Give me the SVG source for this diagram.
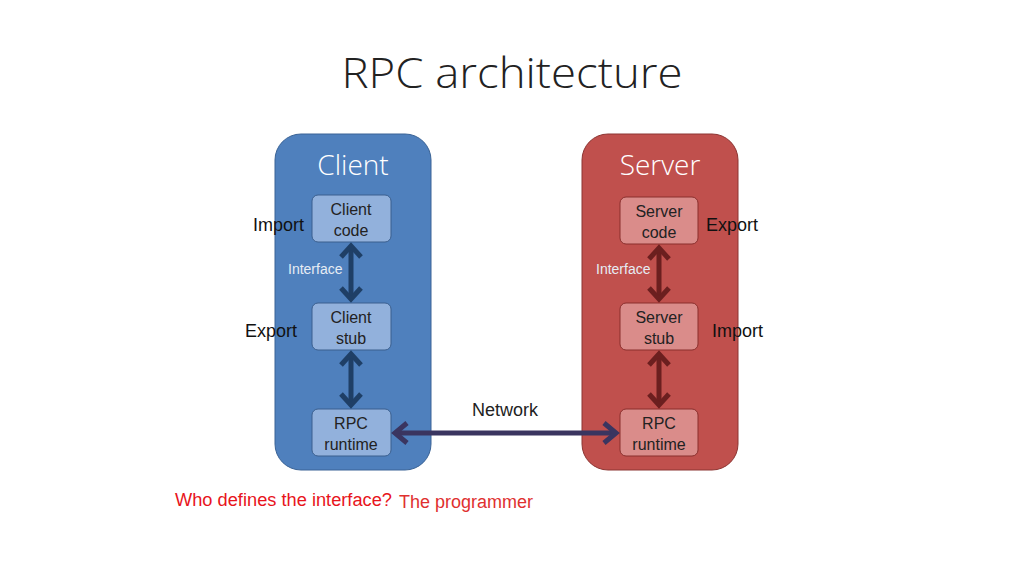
<svg xmlns="http://www.w3.org/2000/svg" width="1024" height="576" viewBox="0 0 1024 576">
<style>
text{font-family:"Liberation Sans",Arial,sans-serif}
.title{font-family:"Open Sans","Liberation Sans",sans-serif;font-size:43px;fill:#222;font-weight:300}
.head{font-family:"Open Sans","Liberation Sans",sans-serif;font-size:28px;fill:#fff;font-weight:300}
.lbl{font-size:16px;fill:#222}
.side{font-size:18px;fill:#111}
.ifc{font-size:14px;fill:#e6ecf4}
.cbox{fill:#92b1dc;stroke:#3b5f8e;stroke-width:1}
.sbox{fill:#da8c8a;stroke:#8a2f2d;stroke-width:1}
.ca{stroke:#1f3f66;stroke-width:5;fill:none;stroke-linecap:butt}
.sa{stroke:#6b1f1f;stroke-width:5;fill:none}
.na{stroke:#3a3560;stroke-width:5;fill:none}
</style>
<rect width="1024" height="576" fill="#fff"/>
<text class="title" x="512" y="88" text-anchor="middle" textLength="341" lengthAdjust="spacingAndGlyphs">RPC architecture</text>
<g id="client">
<rect x="275" y="134" width="156" height="336" rx="26" fill="#4f80bd" stroke="#3a6396" stroke-width="1"/>
<text class="head" x="353" y="175" text-anchor="middle">Client</text>
</g>
<g id="server">
<rect x="582" y="134" width="156" height="336" rx="26" fill="#c0504d" stroke="#8c3532" stroke-width="1"/>
<text class="head" x="660" y="175" text-anchor="middle">Server</text>
</g>
<g id="client-code">
<rect class="cbox" x="312" y="195" width="79" height="47" rx="6"/>
<text class="lbl" x="351" y="215" text-anchor="middle">Client</text>
<text class="lbl" x="351" y="236" text-anchor="middle">code</text>
</g>
<g id="client-stub">
<rect class="cbox" x="312" y="303" width="79" height="47" rx="6"/>
<text class="lbl" x="351" y="323" text-anchor="middle">Client</text>
<text class="lbl" x="351" y="344" text-anchor="middle">stub</text>
</g>
<g id="client-runtime">
<rect class="cbox" x="312" y="409" width="79" height="47" rx="6"/>
<text class="lbl" x="351" y="429" text-anchor="middle">RPC</text>
<text class="lbl" x="351" y="450" text-anchor="middle">runtime</text>
</g>
<g id="server-code">
<rect class="sbox" x="620" y="197" width="78" height="47" rx="6"/>
<text class="lbl" x="659" y="217" text-anchor="middle">Server</text>
<text class="lbl" x="659" y="238" text-anchor="middle">code</text>
</g>
<g id="server-stub">
<rect class="sbox" x="620" y="303" width="78" height="47" rx="6"/>
<text class="lbl" x="659" y="323" text-anchor="middle">Server</text>
<text class="lbl" x="659" y="344" text-anchor="middle">stub</text>
</g>
<g id="server-runtime">
<rect class="sbox" x="620" y="409" width="78" height="47" rx="6"/>
<text class="lbl" x="659" y="429" text-anchor="middle">RPC</text>
<text class="lbl" x="659" y="450" text-anchor="middle">runtime</text>
</g>
<g id="connectors">
<line class="ca" x1="351" y1="246" x2="351" y2="299"/>
<polyline class="ca" points="341,257 351,246 361,257"/>
<polyline class="ca" points="341,288 351,299 361,288"/>
<line class="ca" x1="351" y1="354" x2="351" y2="405"/>
<polyline class="ca" points="341,365 351,354 361,365"/>
<polyline class="ca" points="341,394 351,405 361,394"/>
<line class="sa" x1="659" y1="248" x2="659" y2="299"/>
<polyline class="sa" points="649,259 659,248 669,259"/>
<polyline class="sa" points="649,288 659,299 669,288"/>
<line class="sa" x1="659" y1="354" x2="659" y2="405"/>
<polyline class="sa" points="649,365 659,354 669,365"/>
<polyline class="sa" points="649,394 659,405 669,394"/>
<line class="na" x1="395" y1="433" x2="616" y2="433"/>
<polyline class="na" points="407,423 395,433 407,443"/>
<polyline class="na" points="604,423 616,433 604,443"/>
</g>
<text class="side" x="253" y="231">Import</text>
<text class="side" x="245" y="337">Export</text>
<text class="side" x="706" y="231">Export</text>
<text class="side" x="712" y="337">Import</text>
<text class="ifc" x="288" y="274">Interface</text>
<text class="ifc" x="596" y="274">Interface</text>
<text x="505" y="416" text-anchor="middle" style="font-size:18px;fill:#222">Network</text>
<text x="175" y="506" style="font-size:18px;fill:#e8141c" textLength="217" lengthAdjust="spacingAndGlyphs">Who defines the interface?</text>
<text x="399" y="508" style="font-size:18px;fill:#e0302f">The programmer</text>
</svg>
